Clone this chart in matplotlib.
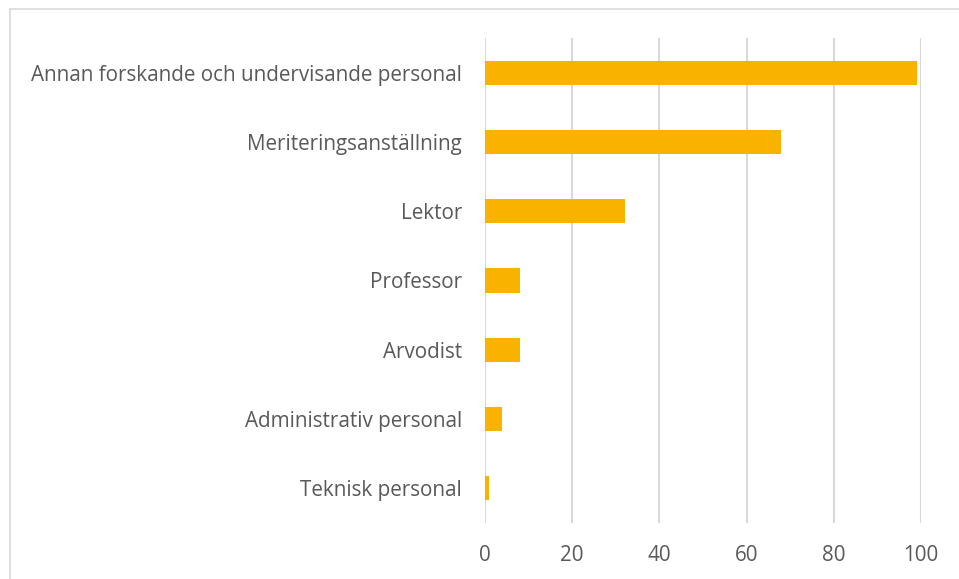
import matplotlib
matplotlib.use("Agg")
import matplotlib.pyplot as plt
from matplotlib.patches import Rectangle

categories = ["Annan forskande och undervisande personal", "Meriteringsanställning", "Lektor",
              "Professor", "Arvodist", "Administrativ personal", "Teknisk personal"]
values = [99, 68, 32, 8, 8, 4, 1]
xticks = [0, 20, 40, 60, 80, 100]

W, H = 959, 579
fig = plt.figure(figsize=(W/100, H/100), dpi=100)
fig.patch.set_facecolor("white")
fig.patches.append(Rectangle((10/W, -0.1), 2, 1.1 - 9/H, transform=fig.transFigure,
                             fill=False, edgecolor="#d9d9d9", linewidth=1.2))

ax = fig.add_axes([485/W, 1-523/H, (921-485)/W, (523-38)/H])
ypos = list(range(len(categories)))[::-1]
ax.barh(ypos, values, height=0.35, color="#F9B200", zorder=3)
ax.set_xlim(0, 100)
ax.set_ylim(-0.5, len(categories)-0.5)
ax.set_xticks(xticks)
ax.set_yticks(ypos)
ax.set_yticklabels(categories)
for s in ax.spines.values():
    s.set_visible(False)
ax.grid(axis="x", color="#d9d9d9", linewidth=1.5, zorder=0)
ax.tick_params(axis="both", length=0, labelsize=14.9, labelcolor="#595959")
ax.tick_params(axis="x", pad=15.5)
ax.tick_params(axis="y", pad=16.5)
for lab in ax.get_xticklabels() + ax.get_yticklabels():
    lab.set_family("Open Sans")
fig.savefig("out.png", dpi=100)
